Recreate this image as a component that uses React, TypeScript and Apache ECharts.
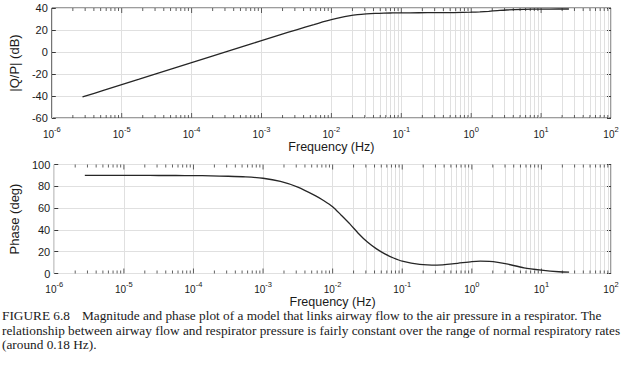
import React, { useEffect, useRef } from "react";
import * as echarts from "echarts";

// Frequency samples (Hz)
const freqHz = [
  2.75e-6, 5.62e-6, 1e-5, 1.78e-5, 3.16e-5, 5.62e-5, 1e-4, 1.78e-4, 3.16e-4, 5.62e-4,
  1e-3, 1.78e-3, 3.16e-3, 5.62e-3, 7.5e-3, 0.01, 0.0133, 0.0178, 0.0237, 0.0316, 0.0422,
  0.0562, 0.075, 0.1, 0.178, 0.316, 0.562, 1, 1.33, 1.78, 2.37, 3.16, 5.62, 10, 17.8, 25,
];
// |Q/P| in dB
const magnitudeDb = [
  -40.9, -34.7, -29.7, -24.7, -19.7, -14.7, -9.7, -4.7, 0.3, 5.3,
  10.3, 15.3, 20.2, 24.9, 27.3, 29.5, 31.3, 32.8, 33.9, 34.6, 35.1,
  35.4, 35.5, 35.6, 35.7, 35.75, 35.85, 36.2, 36.5, 37.0, 37.6, 38.2, 38.8, 39.0, 39.1, 39.1,
];
// Phase in degrees
const phaseDeg = [
  90, 90, 90, 90, 89.9, 89.9, 89.8, 89.6, 89.2, 88.6,
  87.4, 84.5, 79.3, 71.5, 66.8, 61.3, 53.5, 45.3, 36.5, 28.8, 22.8,
  18.0, 14.2, 11.3, 8.4, 7.7, 9.0, 10.9, 11.3, 11.1, 10.2, 8.8, 5.2, 3.1, 1.6, 1.2,
];

// Axis decades (exponents of 10) and minor tick factors
const decadeExponents = [-6, -5, -4, -3, -2, -1, 0, 1, 2];
const minorFactors = [2, 3, 4, 5, 6, 7, 8, 9];
const magTicks = [-60, -40, -20, 0, 20, 40];
const phaseTicks = [0, 20, 40, 60, 80, 100];

const captionLines = [
  "Magnitude and phase plot of a model that links airway flow to the air pressure in a respirator. The",
  "relationship between airway flow and respirator pressure is fairly constant over the range of normal respiratory rates",
  "(around 0.18 Hz).",
];
const captionLabel = "FIGURE 6.8";

const SANS = '"Liberation Sans", Arial, Helvetica, sans-serif';
const SERIF = '"Liberation Serif", "Times New Roman", serif';
const GRID_COLOR = "#e0e0e0";
const FRAME = "#3a3a3a";

export default function App() {
  const ref = useRef<HTMLDivElement>(null);

  useEffect(() => {
    document.body.style.margin = "0";
    if (!ref.current) return;
    const chart = echarts.init(ref.current, undefined, { renderer: "svg" });

    const minorFreqs: number[] = [];
    decadeExponents.slice(0, -1).forEach((e) => {
      minorFactors.forEach((k) => minorFreqs.push(k * Math.pow(10, e)));
    });
    const innerDecades = decadeExponents.slice(1, -1).map((e) => Math.pow(10, e));

    const panels = [
      { values: magnitudeDb, ticks: magTicks, name: "|Q/P| (dB)" },
      { values: phaseDeg, ticks: phaseTicks, name: "Phase (deg)" },
    ];

    const grids = [
      { left: 40, right: 13, top: 8, height: 110 },
      { left: 40, right: 13, top: 164.5, height: 109 },
    ].map((g) => ({ ...g, show: true, borderColor: FRAME, borderWidth: 1, backgroundColor: "transparent" }));

    const xAxes = panels.map((_, i) => ({
      type: "log",
      logBase: 10,
      gridIndex: i,
      min: Math.pow(10, decadeExponents[0]),
      max: Math.pow(10, decadeExponents[decadeExponents.length - 1]),
      splitNumber: 8,
      name: "Frequency (Hz)",
      nameLocation: "middle",
      nameGap: 22,
      nameTextStyle: { fontFamily: SANS, fontSize: 12.5, color: "#1a1a1a" },
      axisLine: { show: false },
      axisTick: { show: false },
      splitLine: { show: true, lineStyle: { color: GRID_COLOR, width: 1 } },
      axisLabel: {
        margin: 7,
        align: "center",
        formatter: (v: number) => `{b|10}{s|${Math.round(Math.log10(v))}}`,
        rich: {
          b: { fontFamily: SANS, fontSize: 10, color: "#1a1a1a", verticalAlign: "bottom", lineHeight: 14 },
          s: { fontFamily: SANS, fontSize: 7.5, color: "#1a1a1a", verticalAlign: "top", lineHeight: 14 },
        },
      },
    }));

    const yAxes: any[] = [];
    panels.forEach((p, i) => {
      const common = {
        type: "value",
        gridIndex: i,
        min: p.ticks[0],
        max: p.ticks[p.ticks.length - 1],
        interval: 20,
        axisLine: { show: false },
        axisTick: { show: true, inside: true, length: 4, lineStyle: { color: FRAME } },
      };
      yAxes.push({
        ...common,
        position: "left",
        name: p.name,
        nameLocation: "middle",
        nameGap: 22,
        nameRotate: 90,
        nameTextStyle: { fontFamily: SANS, fontSize: 13, color: "#1a1a1a" },
        splitLine: { show: true, lineStyle: { color: GRID_COLOR, width: 1 } },
        axisLabel: { margin: 4, fontFamily: SANS, fontSize: 11, color: "#1a1a1a" },
      });
      yAxes.push({
        ...common,
        position: "right",
        splitLine: { show: false },
        axisLabel: { show: false },
      });
    });

    const series: any[] = [];
    panels.forEach((p, i) => {
      const ymin = p.ticks[0];
      const ymax = p.ticks[p.ticks.length - 1];
      // minor grid lines
      series.push({
        type: "line",
        xAxisIndex: i,
        yAxisIndex: i * 2,
        data: [],
        silent: true,
        markLine: {
          silent: true,
          symbol: ["none", "none"],
          label: { show: false },
          lineStyle: { color: GRID_COLOR, type: "solid", width: 1 },
          data: minorFreqs.map((f) => ({ xAxis: f })),
        },
      });
      // tick marks on bottom and top frame
      const tickSeries = (freqs: number[], len: number) => [
        {
          type: "scatter",
          xAxisIndex: i,
          yAxisIndex: i * 2,
          silent: true,
          symbol: "rect",
          symbolSize: [1, len],
          symbolOffset: [0, -len / 2],
          itemStyle: { color: FRAME },
          data: freqs.map((f) => [f, ymin]),
          z: 5,
        },
        {
          type: "scatter",
          xAxisIndex: i,
          yAxisIndex: i * 2,
          silent: true,
          symbol: "rect",
          symbolSize: [1, len],
          symbolOffset: [0, len / 2],
          itemStyle: { color: FRAME },
          data: freqs.map((f) => [f, ymax]),
          z: 5,
        },
      ];
      series.push(...tickSeries(minorFreqs, 3), ...tickSeries(innerDecades, 5));
      // the curve
      series.push({
        type: "line",
        xAxisIndex: i,
        yAxisIndex: i * 2,
        data: freqHz.map((f, k) => [f, p.values[k]]),
        showSymbol: false,
        smooth: 0.25,
        lineStyle: { color: "#262626", width: 1.3 },
        z: 10,
      });
    });

    const captionTop = [309, 323.5, 338];
    const font = `13.3px ${SERIF}`;
    const graphic: any[] = [
      {
        type: "text",
        left: 2,
        top: captionTop[0],
        style: { text: captionLabel, font, fill: "#1a1a1a" },
      },
      ...captionLines.map((t, k) => ({
        type: "text",
        left: k === 0 ? 82 : 2,
        top: captionTop[k],
        style: { text: t, font, fill: "#1a1a1a" },
      })),
    ];

    chart.setOption({
      animation: false,
      backgroundColor: "#ffffff",
      grid: grids,
      xAxis: xAxes,
      yAxis: yAxes,
      series,
      graphic,
    });

    return () => chart.dispose();
  }, []);

  return <div ref={ref} style={{ width: 624, height: 370 }} />;
}
